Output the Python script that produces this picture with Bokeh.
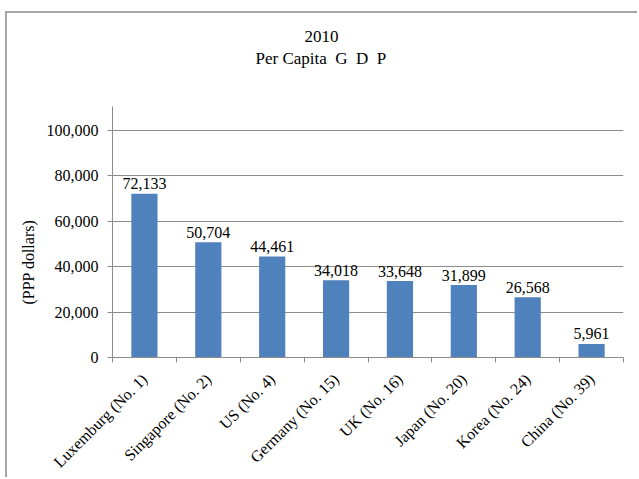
import numpy as np
from math import pi
from bokeh.plotting import figure
from bokeh.models import (Range1d, FixedTicker, NumeralTickFormatter, Title,
                          ColumnDataSource)
from bokeh.core.properties import value
from bokeh.embed import file_html
from bokeh.resources import INLINE

countries = ["Luxemburg (No. 1)", "Singapore (No. 2)", "US (No. 4)", "Germany (No. 15)",
             "UK (No. 16)", "Japan (No. 20)", "Korea (No. 24)", "China (No. 39)"]
gdp = [72133, 50704, 44461, 34018, 33648, 31899, 26568, 5961]
y_ticks = [0, 20000, 40000, 60000, 80000, 100000]
NB = "\u00a0"
title_lines = ["2010", "Per Capita" + NB * 2 + "G" + NB * 2 + "D" + NB * 2 + "P"]
y_title = "(PPP dollars)"

FONT = "Liberation Serif"
FS = "16px"
GRAY = "#8c8c8c"
BAR = "#4f81bd"

# canvas sits inside a bordered box at (5, 11) with a 2px border
OX, OY = 7, 13
W, H = 639 - OX, 479 - OY
FL, FT, FR, FB = 112 - OX, 106 - OY, 623 - OX, 358 - OY

xs = list(np.arange(len(countries)) + 0.5)
src = ColumnDataSource(dict(x=xs, top=gdp, lab=[f"{v:,}" for v in gdp]))

p = figure(width=W, height=H, output_backend="svg", toolbar_location=None,
           title_location=None,
           x_range=Range1d(0, len(countries)), y_range=Range1d(0, 110526),
           min_border_left=FL, min_border_right=W - FR, min_border_top=FT,
           min_border_bottom=H - FB)
p.styles = {"border-left": "2px solid #a6a6a6", "border-top": "2px solid #a6a6a6",
            "margin-left": "5px", "margin-top": "11px"}
p.outline_line_color = None
p.background_fill_color = "white"
p.border_fill_color = "white"

p.vbar(x="x", top="top", width=0.41, source=src, fill_color=BAR, line_color=None)
p.text(x="x", y="top", text="lab", source=src, text_align="center",
       text_baseline="alphabetic", y_offset=-10, text_font=value(FONT),
       text_font_size=FS, text_color="black")

# x axis
xa = p.xaxis[0]
xa.ticker = FixedTicker(ticks=xs, minor_ticks=list(range(len(countries) + 1)))
xa.major_label_overrides = {float(x): c for x, c in zip(xs, countries)}
xa.major_tick_out = 0
xa.major_tick_in = 0
xa.minor_tick_out = 5
xa.minor_tick_in = 0
xa.minor_tick_line_color = GRAY
xa.axis_line_color = GRAY
xa.major_label_orientation = pi / 4
xa.major_label_standoff = 14
xa.major_label_text_font = FONT
xa.major_label_text_font_size = FS
xa.major_label_text_color = "black"

# y axis
ya = p.yaxis[0]
ya.ticker = FixedTicker(ticks=y_ticks, minor_ticks=[])
ya.formatter = NumeralTickFormatter(format="0,0")
ya.major_tick_out = 5
ya.major_tick_in = 0
ya.major_tick_line_color = GRAY
ya.minor_tick_line_color = None
ya.axis_line_color = GRAY
ya.major_label_standoff = 9
ya.major_label_text_font = FONT
ya.major_label_text_font_size = FS
ya.major_label_text_color = "black"

p.xgrid.visible = False
p.ygrid.ticker = FixedTicker(ticks=y_ticks)
p.ygrid.grid_line_color = GRAY
p.ygrid.grid_line_width = 1

# titles: zero-height panels, text lifted into the top margin
TFS = "17px"
p.add_layout(Title(text=title_lines[1], align="left", offset=255 - 112,
                   vertical_align="top", standoff=-116, text_font=FONT,
                   text_font_size=TFS, text_font_style="normal",
                   text_color="black"), "above")
p.add_layout(Title(text=title_lines[0], align="left", offset=304 - 112,
                   vertical_align="top", standoff=-152, text_font=FONT,
                   text_font_size=TFS, text_font_style="normal",
                   text_color="black"), "above")
p.add_layout(Title(text=y_title, align="left", offset=53, standoff=13,
                   text_font=FONT, text_font_size=FS,
                   text_font_style="normal", text_color="black"), "left")

open("out.html", "w").write(file_html(p, INLINE))
